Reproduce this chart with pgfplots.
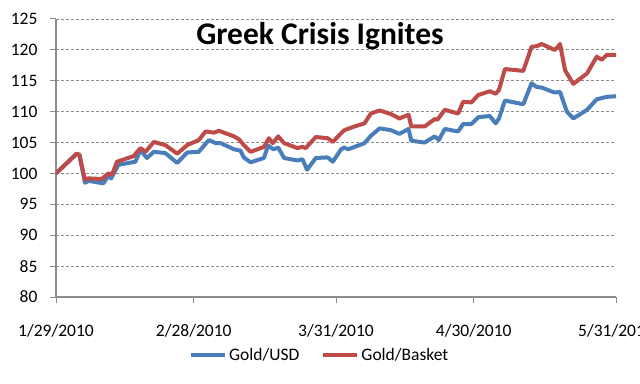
\documentclass[border=0pt]{standalone}
\usepackage{fontspec}
\setmainfont{Carlito}
\usepackage{pgfplots}
\pgfplotsset{compat=1.18}
\definecolor{goldusd}{HTML}{4A7EBB}
\definecolor{goldbasket}{HTML}{BE4B48}
\definecolor{axgray}{HTML}{8C8C8C}
\begin{document}
\begin{tikzpicture}
\begin{axis}[
  at={(56bp,87bp)}, anchor=south west,
  scale only axis, width=560bp, height=278bp,
  xmin=0, xmax=122, ymin=80, ymax=125,
  axis lines=left,
  axis line style={-, draw=axgray, line width=1.3bp},
  tick align=outside, major tick length=6bp,
  tick style={draw=axgray, line width=1bp},
  xtick={0,30,61,91,122},
  xticklabels={1/29/2010,2/28/2010,3/31/2010,4/30/2010,5/31/2010},
  ytick={80,85,...,125},
  /pgf/number format/assume math mode=true,
  ymajorgrids,
  grid style={draw=axgray, line width=0.8bp, dash pattern=on 3bp off 2bp},
  ticklabel style={font=\fontsize{17.5bp}{20bp}\selectfont, text=black},
  xticklabel style={anchor=base, yshift=-33bp},
  yticklabel style={anchor=east, xshift=-9bp},
  legend columns=2,
  legend style={at={(0.471,-0.209)}, anchor=center, draw=none, fill=none,
    font=\fontsize{17.5bp}{20bp}\selectfont,
    /tikz/every even column/.append style={column sep=20bp}},
  legend image code/.code={\draw[#1, line width=4bp] (0bp,0bp) -- (34bp,0bp);},
]
\addplot[goldusd, line width=4bp, line join=round] coordinates {
(0,100) (4.5,103.2) (5.1,103.0) (6.3,98.5) (7.1,98.8) (10.3,98.4) (11.4,99.6) (12.0,99.2)
(13.6,101.4) (17.3,101.9) (18.4,103.8) (19.8,102.5) (21.3,103.5) (23.8,103.3) (26.4,101.7)
(28.6,103.4) (31.1,103.5) (33.3,105.4) (34.8,104.9) (35.9,104.9) (38.8,103.9) (40.2,103.7)
(40.9,102.6) (42.4,101.8) (45.3,102.5) (46.2,104.5) (47.4,103.9) (48.4,104.2) (49.7,102.5)
(52.6,102.1) (53.7,102.3) (54.7,100.6) (56.6,102.5) (59.2,102.6) (60.3,101.9) (62.1,103.9)
(62.8,104.2) (63.6,103.9) (67.2,104.9) (68.6,106.1) (70.5,107.3) (73.0,107.0) (74.8,106.4)
(76.8,107.2) (77.4,105.3) (80.3,105.0) (82.5,106.0) (83.4,105.4) (84.7,107.2) (87.6,106.8)
(88.7,108.0) (90.5,108.0) (92.0,109.1) (94.5,109.3) (95.8,108.1) (96.5,108.9) (97.8,111.8)
(101.8,111.2) (103.6,114.6) (104.7,114.0) (105.8,113.9) (108.6,113.1) (109.8,113.2)
(111.3,110.0) (112.7,108.9) (115.7,110.3) (117.8,112.0) (118.9,112.2) (120.0,112.4) (122,112.5)
};
\addlegendentry{Gold/USD}
\addplot[goldbasket, line width=4bp, line join=round] coordinates {
(0,100) (4.5,103.2) (5.1,103.0) (6.3,99.0) (7.1,99.2) (10.0,99.1) (11.4,100.0) (12.2,99.8)
(13.3,101.9) (16.9,102.8) (18.4,104.1) (19.5,103.5) (21.3,105.1) (23.8,104.6) (26.4,103.2)
(28.6,104.6) (31.1,105.4) (32.6,106.8) (34.4,106.6) (35.5,106.9) (38.8,106.0) (39.9,105.5)
(40.9,104.6) (42.4,103.5) (45.3,104.3) (46.4,105.7) (47.2,104.9) (48.4,106.0) (49.7,104.9)
(52.6,104.1) (53.7,104.3) (54.4,104.1) (56.6,105.9) (59.2,105.7) (60.3,105.1) (62.1,106.5)
(62.8,107.0) (65.0,107.6) (67.2,108.1) (68.6,109.7) (70.5,110.2) (73.0,109.6) (74.8,108.9)
(76.8,109.5) (77.4,107.6) (80.3,107.6) (82.5,108.8) (83.1,108.7) (84.7,110.3) (87.6,109.7)
(88.7,111.6) (90.5,111.5) (92.0,112.7) (94.5,113.3) (95.8,112.9) (96.5,113.5) (97.8,116.9)
(101.8,116.6) (103.6,120.5) (104.7,120.6) (105.8,120.95) (108.6,120.0) (109.1,120.3)
(109.8,120.95) (110.9,116.7) (112.7,114.5) (115.7,116.2) (117.8,118.9) (118.9,118.4)
(120.0,119.2) (122,119.2)
};
\addlegendentry{Gold/Basket}
\end{axis}
\node[anchor=base, font=\fontsize{31.5bp}{36bp}\selectfont\bfseries] at (320bp,339bp) {Greek Crisis Ignites};
\pgfresetboundingbox
\useasboundingbox (0,0) rectangle (640bp,384bp);
\end{tikzpicture}
\end{document}
